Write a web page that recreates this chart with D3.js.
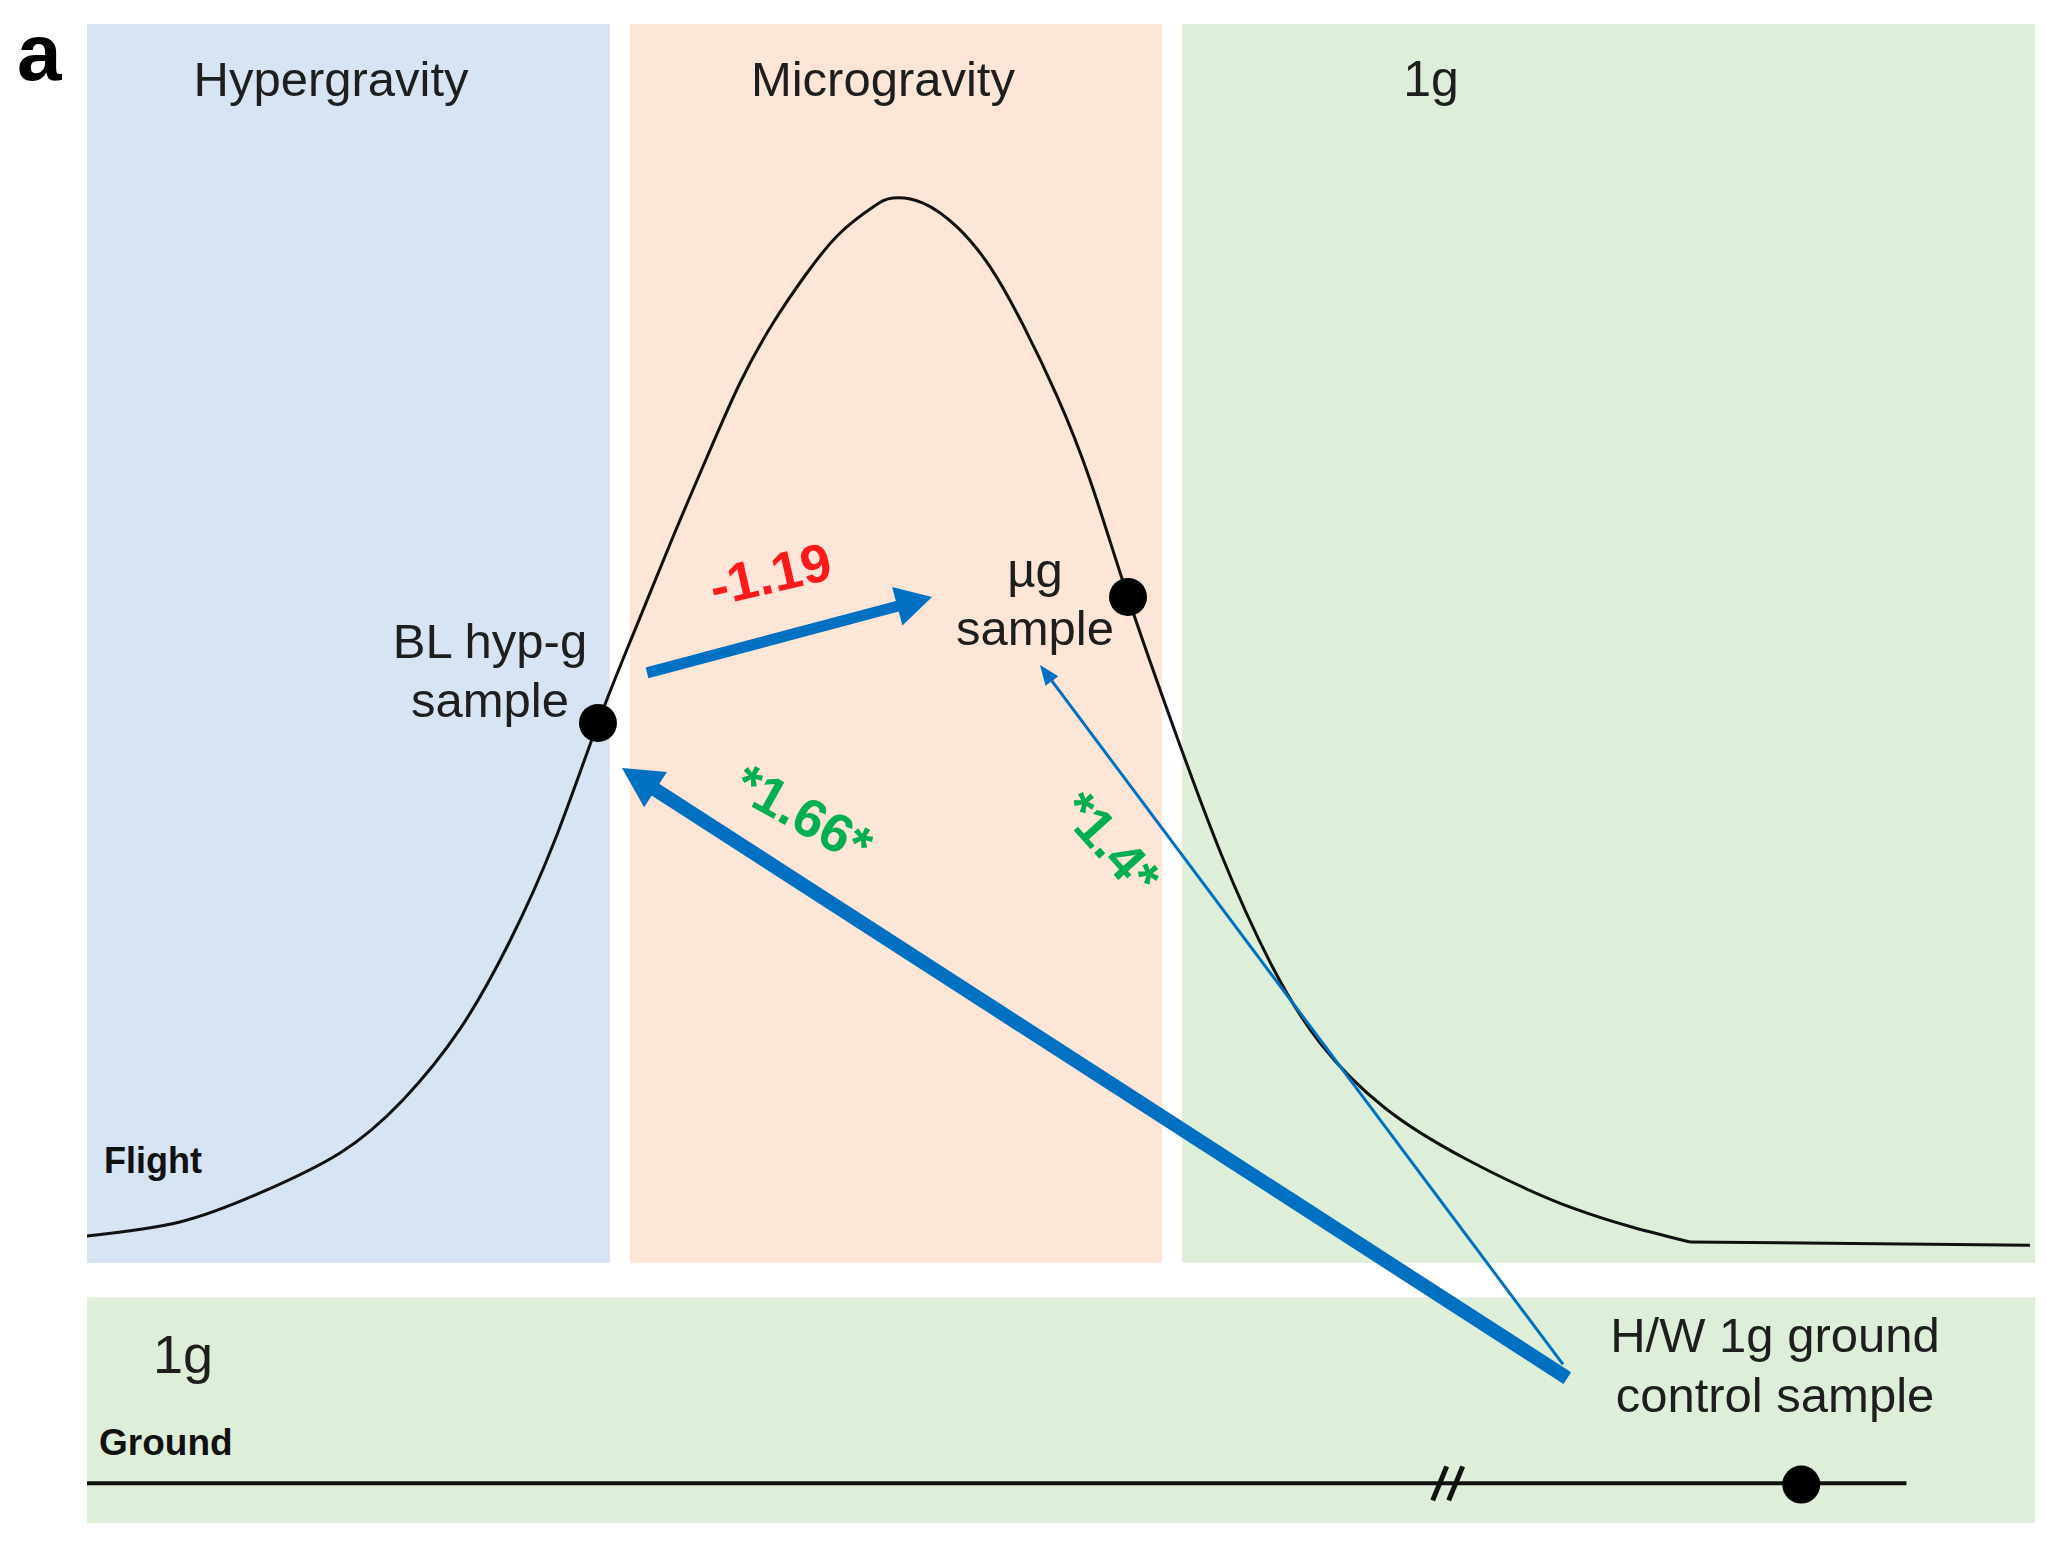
<!DOCTYPE html>
<html>
<head>
<meta charset="utf-8">
<script src="https://cdn.jsdelivr.net/npm/d3@7"></script>
<style>
  body { margin: 0; background: #fff; }
  svg { display: block; font-family: "Liberation Sans", Arial, Helvetica, sans-serif; }
</style>
</head>
<body>
<svg id="chart"></svg>
<script>
// canvas size
const width = 2047;
const height = 1542;

// flight phases along a schematic time axis (0-100)
const phases = ["Hypergravity", "Microgravity", "1g"];
const phaseBounds = [0, 27.35, 55.7, 100];

// rows of the figure, in level units (flight above, ground below)
const rows = ["Flight", "Ground"];
const rowLow = [0, -21];
const rowHigh = [100, -2.8];

// schematic flight curve (time, level)
const curveTime = [0, 4.77, 8.88, 12.99, 16.22, 19.15, 21.71, 24.02, 26.23, 28.13, 30.08, 31.83, 33.52,
  35.22, 36.96, 38.66, 40.35, 41.38, 42.92, 44.66, 46.36, 48.05, 49.79, 51.49, 53.44, 55.75, 58.26,
  60.78, 63.3, 66.63, 70.79, 76.39, 82.29, 99.74];
const curveLevel = [2.17, 3.30, 5.64, 8.87, 13.15, 18.88, 25.98, 34.13, 43.58, 51.09, 58.59, 65.05, 71.02,
  75.87, 79.90, 83.13, 85.23, 85.96, 85.55, 83.62, 80.39, 75.71, 69.98, 63.19, 53.75, 43.34, 32.84,
  24.12, 17.75, 12.50, 8.38, 4.35, 1.68, 1.43];

// ground timeline
const groundLevel = -17.8;
const groundEnd = 93.4;
const groundBreak = 69.8;

// samples
const sampleLines = [["BL hyp-g", "sample"], ["µg", "sample"], ["H/W 1g ground", "control sample"]];
const sampleTime = [26.23, 53.44, 88.0];
const sampleLevel = [43.58, 53.75, -17.9];

// fold-change comparisons (arrows from, to)
const compLabels = ["-1.19", "*1.66*", "*1.4*"];
const compFrom = [[28.75, 47.62], [75.99, -9.3], [75.77, -8.2]];
const compTo = [[43.38, 53.75], [27.46, 39.95], [48.92, 48.26]];

// styling / layout (kept apart from the data)
const phaseColors = ["#d7e4f4", "#fde5d7", "#deefd9"];
const groundColor = "#deefd9";
const blue = "#0070c0";
const textColor = "#1e1e1e";
const compColors = ["#ff1a1a", "#00b050", "#00b050"];
const arrowStyle = [
  { w: 11, head: 36, half: 20, f: 0.49, n: 64, rot: -13 },
  { w: 14, head: 40, half: 21, f: 0.158, n: 60, rot: 29 },
  { w: 3, head: 20, half: 8, f: 0.212, n: -50, rot: 48 }
];
const phaseLabelAt = [12.53, 40.86, 69.0];

const svg = d3.select("#chart").attr("width", width).attr("height", height);
svg.append("rect").attr("width", width).attr("height", height).attr("fill", "#fff");

// scales
const x = d3.scaleLinear().domain([0, 100]).range([87, 2035]);
const y = d3.scaleLinear().domain([-21, 100]).range([1523, 24]);
const gap = 10;

// phase panels (flight row)
phases.forEach((p, i) => {
  const x0 = x(phaseBounds[i]) + (i > 0 ? gap : 0);
  const x1 = x(phaseBounds[i + 1]) - (i < phases.length - 1 ? gap : 0);
  svg.append("rect")
    .attr("x", x0).attr("y", y(rowHigh[0]))
    .attr("width", x1 - x0).attr("height", y(rowLow[0]) - y(rowHigh[0]))
    .attr("fill", phaseColors[i]);
});

// ground panel
svg.append("rect")
  .attr("x", x(0)).attr("y", y(rowHigh[1]))
  .attr("width", x(100) - x(0)).attr("height", y(rowLow[1]) - y(rowHigh[1]))
  .attr("fill", groundColor);

// phase titles
phases.forEach((p, i) => {
  svg.append("text")
    .attr("x", x(phaseLabelAt[i])).attr("y", 96)
    .attr("text-anchor", "middle")
    .attr("font-size", i === 2 ? 50 : 49)
    .attr("fill", textColor)
    .text(p);
});

// panel letter
svg.append("text")
  .attr("x", 17).attr("y", 80)
  .attr("font-size", 80).attr("font-weight", "bold")
  .attr("fill", "#000")
  .text("a");

// row labels
svg.append("text").attr("x", 104).attr("y", 1173)
  .attr("font-size", 36).attr("font-weight", "bold").attr("fill", "#111").text(rows[0]);
svg.append("text").attr("x", 99).attr("y", 1455)
  .attr("font-size", 37).attr("font-weight", "bold").attr("fill", "#111").text(rows[1]);
svg.append("text").attr("x", 153).attr("y", 1373)
  .attr("font-size", 54).attr("fill", textColor).text("1g");

// flight curve: smooth spline, then the flat tail as a straight segment
const pts = curveTime.map((t, i) => [t, curveLevel[i]]);
const smooth = d3.line()
  .x(d => x(d[0]))
  .y(d => y(d[1]))
  .curve(d3.curveNatural);
const straight = d3.line()
  .x(d => x(d[0]))
  .y(d => y(d[1]));
svg.append("path")
  .datum(pts.slice(0, pts.length - 1))
  .attr("fill", "none")
  .attr("stroke", "#111")
  .attr("stroke-width", 3)
  .attr("d", smooth);
svg.append("path")
  .datum(pts.slice(pts.length - 2))
  .attr("fill", "none")
  .attr("stroke", "#111")
  .attr("stroke-width", 3)
  .attr("d", straight);

// ground timeline with axis break
svg.append("line")
  .attr("x1", x(0)).attr("x2", x(groundEnd))
  .attr("y1", y(groundLevel)).attr("y2", y(groundLevel))
  .attr("stroke", "#111").attr("stroke-width", 4);
[-7, 9].forEach(dx => {
  const bx = x(groundBreak) + dx;
  const by = y(groundLevel);
  svg.append("line")
    .attr("x1", bx - 7).attr("y1", by + 17)
    .attr("x2", bx + 7).attr("y2", by - 17)
    .attr("stroke", "#111").attr("stroke-width", 5);
});

// comparison arrows
compLabels.forEach((lab, i) => {
  const st = arrowStyle[i];
  const x0 = x(compFrom[i][0]), y0 = y(compFrom[i][1]);
  const x1 = x(compTo[i][0]), y1 = y(compTo[i][1]);
  const len = Math.hypot(x1 - x0, y1 - y0);
  const ux = (x1 - x0) / len, uy = (y1 - y0) / len;
  const bx = x1 - ux * st.head, by = y1 - uy * st.head;

  svg.append("line")
    .attr("x1", x0).attr("y1", y0)
    .attr("x2", bx + ux * 2).attr("y2", by + uy * 2)
    .attr("stroke", blue).attr("stroke-width", st.w);

  svg.append("polygon")
    .attr("points", [
      [x1, y1],
      [bx - uy * st.half, by + ux * st.half],
      [bx + uy * st.half, by - ux * st.half]
    ].map(p => p.join(",")).join(" "))
    .attr("fill", blue);

  // label placed along the arrow, read left to right
  const left = x0 < x1 ? [x0, y0] : [x1, y1];
  const rx = x0 < x1 ? ux : -ux, ry = x0 < x1 ? uy : -uy;
  const lx = left[0] + rx * st.f * len + ry * st.n;
  const ly = left[1] + ry * st.f * len - rx * st.n;
  svg.append("text")
    .attr("transform", `translate(${lx},${ly}) rotate(${st.rot})`)
    .attr("text-anchor", "middle")
    .attr("dominant-baseline", "central")
    .attr("font-size", 54)
    .attr("font-weight", "bold")
    .attr("fill", compColors[i])
    .text(lab);
});

// sample points
svg.selectAll(".sample")
  .data(sampleTime)
  .enter()
  .append("circle")
  .attr("class", "sample")
  .attr("cx", (d, i) => x(d))
  .attr("cy", (d, i) => y(sampleLevel[i]))
  .attr("r", 19)
  .attr("fill", "#000");

// sample labels
const labelPos = [[490, 658], [1035, 587], [1775, 1352]];
const labelStep = [59, 58, 60];
sampleLines.forEach((lines, i) => {
  lines.forEach((t, j) => {
    svg.append("text")
      .attr("x", labelPos[i][0]).attr("y", labelPos[i][1] + j * labelStep[i])
      .attr("text-anchor", "middle")
      .attr("font-size", 49)
      .attr("fill", textColor)
      .text(t);
  });
});
</script>
</body>
</html>
